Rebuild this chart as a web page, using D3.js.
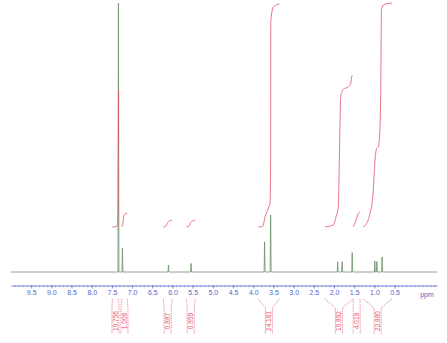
<!DOCTYPE html>
<html>
<head>
<meta charset="utf-8">
<script src="https://cdn.jsdelivr.net/npm/d3@7"></script>
<style>
    body { margin: 0; background: #fff; }
    text { font-family: 'Liberation Sans', Arial, sans-serif; }
</style>
</head>
<body>
<svg id="chart"></svg>
<script>
// peak list (ppm, relative height %)
const peakShift  = [7.34, 7.24, 6.10, 5.54, 3.72, 3.57, 1.91, 1.80, 1.55, 0.99, 0.94, 0.81];
const peakHeight = [100, 8.9, 2.6, 3.2, 11.2, 21.2, 3.8, 3.8, 7.2, 4.1, 3.9, 5.6];

// integral traces: [ppm, level 0..100]
const integralCurves = [
    [[7.49, 0], [7.38, 0.3], [7.355, 3], [7.345, 15], [7.34, 40], [7.335, 61]],
    [[7.26, 0], [7.23, 1.5], [7.21, 4.5], [7.18, 5.8], [7.12, 6.3]],
    [[6.23, 0], [6.16, 0.4], [6.12, 2], [6.07, 2.7], [6.01, 3]],
    [[5.66, 0], [5.59, 0.4], [5.55, 2], [5.50, 2.7], [5.44, 3]],
    [[3.874, 0], [3.765, 0.3], [3.708, 4.6], [3.626, 8.5], [3.584, 10.7], [3.570, 30], [3.566, 92], [3.502, 98.3], [3.354, 99.6]],
    [[2.223, 0.1], [2.017, 0.9], [1.950, 4.6], [1.894, 9.1], [1.869, 29.9], [1.834, 58.2], [1.770, 61.5], [1.646, 62.6], [1.587, 64.1], [1.562, 67.1], [1.537, 67.9]],
    [[1.522, 0.1], [1.455, 3.1], [1.398, 6.1], [1.356, 6.8]],
    [[1.275, 0.1], [1.191, 1.6], [1.109, 6.1], [1.027, 16.5], [0.985, 29.9], [0.943, 35.1], [0.903, 35.8], [0.861, 44.8], [0.844, 59.7], [0.824, 97], [0.762, 99.3], [0.564, 100]]
];
const integralLabels = ['10.756', '1.008', '0.887', '0.859', '24.181', '10.892', '4.019', '22.880'];

const tickValues = [9.5, 9.0, 8.5, 8.0, 7.5, 7.0, 6.5, 6.0, 5.5, 5.0, 4.5, 4.0, 3.5, 3.0, 2.5, 2.0, 1.5, 1.0, 0.5];

const W = 447, H = 343;
const specColor = '#6b8f6b';
const intColor = '#e4506a';
const axisColor = '#5566cc';

const svg = d3.select('#chart')
    .attr('width', W)
    .attr('height', H);

const xscale = d3.scaleLinear()
    .domain([10.0, -0.55])
    .range([11, 437]);

const yscale = d3.scaleLinear()
    .domain([0, 100])
    .range([272, 3]);

const iscale = d3.scaleLinear()
    .domain([0, 100])
    .range([227, 3]);

// spectrum trace: baseline with narrow peaks
let pts = [[10.0, 0]];
d3.range(peakShift.length)
    .sort((a, b) => peakShift[b] - peakShift[a])
    .forEach(i => {
        pts.push([peakShift[i] + 0.012, 0]);
        pts.push([peakShift[i], peakHeight[i]]);
        pts.push([peakShift[i] - 0.012, 0]);
    });
pts.push([-0.55, 0]);

const line = d3.line()
    .x(d => xscale(d[0]))
    .y(d => yscale(d[1]));

svg.append('path')
    .attr('d', line(pts))
    .attr('fill', 'none')
    .attr('stroke', specColor)
    .attr('stroke-width', 0.8);

// integral curves
const iline = d3.line()
    .x(d => xscale(d[0]))
    .y(d => iscale(d[1]))
    .curve(d3.curveMonotoneX);

svg.append('g')
    .selectAll('path')
    .data(integralCurves)
    .join('path')
    .attr('d', d => iline(d))
    .attr('fill', 'none')
    .attr('stroke', intColor)
    .attr('stroke-width', 0.8);

// axis
const xaxis = d3.axisBottom(xscale)
    .tickValues(tickValues)
    .tickFormat(d3.format('.1f'))
    .tickSize(3)
    .tickSizeOuter(0);

const axisGroup = svg.append('g')
    .attr('transform', 'translate(0, 285.5)')
    .call(xaxis);

axisGroup.select('.domain').attr('stroke', axisColor).attr('stroke-width', 0.8);
axisGroup.selectAll('.tick line').attr('stroke', axisColor).attr('stroke-width', 0.7);
axisGroup.selectAll('.tick text')
    .attr('fill', axisColor)
    .attr('font-size', 7)
    .attr('font-family', "'Liberation Sans', Arial, sans-serif")
    .attr('y', 5);

// minor ticks
axisGroup.append('g')
    .selectAll('line')
    .data(d3.range(99, -6, -1).map(v => v / 10))
    .join('line')
    .attr('x1', d => xscale(d))
    .attr('x2', d => xscale(d))
    .attr('y1', 0)
    .attr('y2', 1.6)
    .attr('stroke', axisColor)
    .attr('stroke-width', 0.6);

svg.append('text')
    .attr('x', 427)
    .attr('y', 297)
    .attr('text-anchor', 'middle')
    .attr('font-size', 7)
    .attr('fill', axisColor)
    .text('ppm');

// integral labels with brackets
const labels = svg.append('g');
integralCurves.forEach((c, i) => {
    const x0 = xscale(c[0][0]);
    const x1 = xscale(c[c.length - 1][0]);
    const mid = (x0 + x1) / 2;

    [[x0, mid - 3.5], [x1, mid + 3.5]].forEach(p => {
        labels.append('path')
            .attr('d', `M${p[0]},299 L${p[1]},308 L${p[1]},334`)
            .attr('fill', 'none')
            .attr('stroke', intColor)
            .attr('stroke-width', 0.6)
            .attr('stroke-dasharray', '1.5,0.8');
    });

    labels.append('text')
        .attr('transform', `translate(${mid}, 321) rotate(-90)`)
        .attr('text-anchor', 'middle')
        .attr('dy', '0.35em')
        .attr('font-size', 6.5)
        .attr('fill', intColor)
        .text(integralLabels[i]);
});
</script>
</body>
</html>
